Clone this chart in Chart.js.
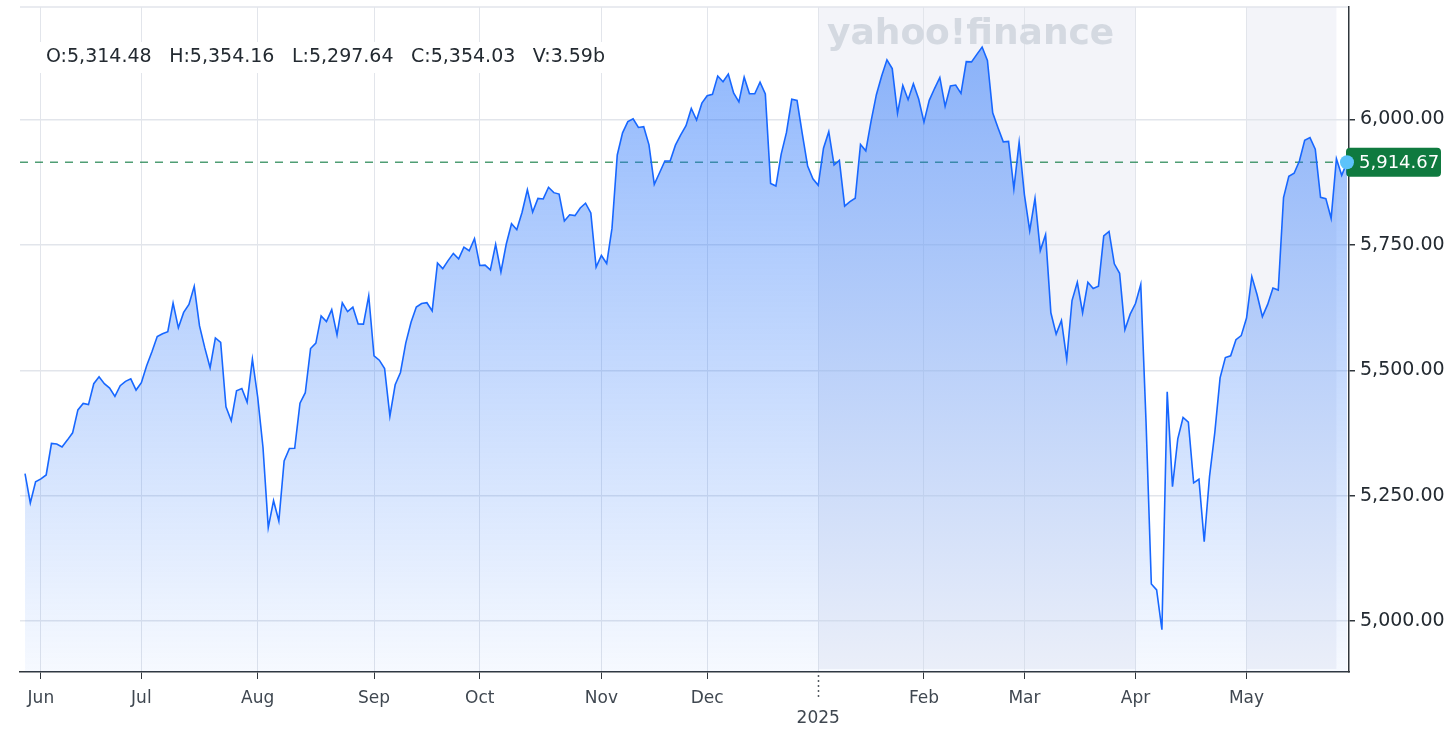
<!DOCTYPE html>
<html>
<head>
<meta charset="utf-8">
<title>S&amp;P 500 - 1Y</title>
<script src="https://cdn.jsdelivr.net/npm/chart.js@4.4.1/dist/chart.umd.min.js"></script>
<style>
  html, body { margin: 0; padding: 0; background: #fff; }
  #wrap { width: 1456px; height: 738px; }
</style>
</head>
<body>
<div id="wrap"><canvas id="myChart" width="1456" height="738"></canvas></div>
<script>
// trading sessions, one list of days per month
const sessionMonths = ['2024-05', '2024-06', '2024-07', '2024-08', '2024-09', '2024-10', '2024-11',
  '2024-12', '2025-01', '2025-02', '2025-03', '2025-04', '2025-05'];
const sessionDays = [
  [29, 30, 31],
  [3, 4, 5, 6, 7, 10, 11, 12, 13, 14, 17, 18, 20, 21, 24, 25, 26, 27, 28],
  [1, 2, 3, 5, 8, 9, 10, 11, 12, 15, 16, 17, 18, 19, 22, 23, 24, 25, 26, 29, 30, 31],
  [1, 2, 5, 6, 7, 8, 9, 12, 13, 14, 15, 16, 19, 20, 21, 22, 23, 26, 27, 28, 29, 30],
  [3, 4, 5, 6, 9, 10, 11, 12, 13, 16, 17, 18, 19, 20, 23, 24, 25, 26, 27, 30],
  [1, 2, 3, 4, 7, 8, 9, 10, 11, 14, 15, 16, 17, 18, 21, 22, 23, 24, 25, 28, 29, 30, 31],
  [1, 4, 5, 6, 7, 8, 11, 12, 13, 14, 15, 18, 19, 20, 21, 22, 25, 26, 27, 29],
  [2, 3, 4, 5, 6, 9, 10, 11, 12, 13, 16, 17, 18, 19, 20, 23, 24, 26, 27, 30, 31],
  [2, 3, 6, 7, 8, 10, 13, 14, 15, 16, 17, 21, 22, 23, 24, 27, 28, 29, 30, 31],
  [3, 4, 5, 6, 7, 10, 11, 12, 13, 14, 18, 19, 20, 21, 24, 25, 26, 27, 28],
  [3, 4, 5, 6, 7, 10, 11, 12, 13, 14, 17, 18, 19, 20, 21, 24, 25, 26, 27, 28, 31],
  [1, 2, 3, 4, 7, 8, 9, 10, 11, 14, 15, 16, 17, 21, 22, 23, 24, 25, 28, 29, 30],
  [1, 2, 5, 6, 7, 8, 9, 12, 13, 14, 15, 16, 19, 20, 21, 22, 23, 27, 28, 29]
];

const closes = [
  5294.00, 5235.48, 5277.51,
  5283.40, 5291.34, 5354.03, 5352.96, 5346.99, 5360.79, 5375.32, 5421.03, 5433.74, 5431.60,
  5473.23, 5487.03, 5473.17, 5464.62, 5447.87, 5469.30, 5477.90, 5482.87, 5460.48,
  5475.09, 5509.01, 5537.02, 5567.19, 5572.85, 5576.98, 5633.91, 5584.54, 5615.35, 5631.22,
  5667.20, 5588.27, 5544.59, 5505.00, 5564.41, 5555.74, 5427.13, 5399.22, 5459.10, 5463.54,
  5436.44, 5522.30,
  5446.68, 5346.56, 5186.33, 5240.03, 5199.50, 5319.31, 5344.16, 5344.39, 5434.43, 5455.21,
  5543.22, 5554.25, 5608.25, 5597.12, 5620.85, 5570.64, 5634.61, 5616.84, 5625.80, 5592.18,
  5591.96, 5648.40,
  5528.93, 5520.07, 5503.41, 5408.42, 5471.05, 5495.52, 5554.13, 5595.76, 5626.02, 5633.09,
  5634.58, 5618.26, 5713.64, 5702.55, 5718.57, 5732.93, 5722.26, 5745.37, 5738.17, 5762.48,
  5708.75, 5709.54, 5699.94, 5751.07, 5695.94, 5751.13, 5792.04, 5780.05, 5815.03, 5859.85,
  5815.26, 5842.47, 5841.47, 5864.67, 5853.98, 5851.20, 5797.42, 5809.86, 5808.12, 5823.52,
  5832.92, 5813.67, 5705.45,
  5728.80, 5712.69, 5782.76, 5929.04, 5973.10, 5995.54, 6001.35, 5983.99, 5985.38, 5949.17,
  5870.62, 5893.62, 5916.98, 5917.11, 5948.71, 5969.34, 5987.37, 6021.63, 5998.74, 6032.38,
  6047.15, 6049.88, 6086.49, 6075.11, 6090.27, 6052.85, 6034.91, 6084.19, 6051.25, 6051.09,
  6074.08, 6050.61, 5872.16, 5867.08, 5930.85, 5974.07, 6040.04, 6037.59, 5970.84, 5906.94,
  5881.63,
  5868.55, 5942.47, 5975.38, 5909.03, 5918.25, 5827.04, 5836.22, 5842.91, 5949.91, 5937.34,
  5996.66, 6049.24, 6086.37, 6118.71, 6101.24, 6012.28, 6067.70, 6039.31, 6071.17, 6040.53,
  5994.57, 6037.88, 6061.48, 6083.57, 6025.99, 6066.44, 6068.50, 6051.97, 6115.07, 6114.63,
  6129.58, 6144.15, 6117.52, 6013.13, 5983.25, 5955.25, 5956.06, 5861.57, 5954.50,
  5849.72, 5778.15, 5842.63, 5738.52, 5770.20, 5614.56, 5572.07, 5599.30, 5521.52, 5638.94,
  5675.12, 5614.66, 5675.29, 5662.89, 5667.56, 5767.57, 5776.65, 5712.20, 5693.31, 5580.94,
  5611.85,
  5633.07, 5670.97, 5396.52, 5074.08, 5062.25, 4982.77, 5456.90, 5268.05, 5363.36, 5405.97,
  5396.63, 5275.70, 5282.70, 5158.20, 5287.76, 5375.86, 5484.77, 5525.21, 5528.75, 5560.83,
  5569.06,
  5604.14, 5686.67, 5650.38, 5606.91, 5631.28, 5663.94, 5659.91, 5844.19, 5886.55, 5892.58,
  5916.93, 5958.38, 5963.60, 5940.46, 5844.61, 5842.01, 5802.82, 5921.54, 5888.55, 5914.67
];

const monthNames = ['Jan', 'Feb', 'Mar', 'Apr', 'May', 'Jun', 'Jul', 'Aug', 'Sep', 'Oct', 'Nov', 'Dec'];
const priceTicks = [5000, 5250, 5500, 5750, 6000];
const ohlcParts = ['O:5,314.48', 'H:5,354.16', 'L:5,297.64', 'C:5,354.03', 'V:3.59b'];
const shadedRanges = [['2025-01-02', '2025-04-01'], ['2025-05-01', '2025-05-27']];
const watermark = 'yahoo!finance';

// flatten sessions to date strings
const dates = [];
sessionMonths.forEach((m, i) => {
  sessionDays[i].forEach(d => dates.push(m + '-' + String(d).padStart(2, '0')));
});

// first session of every month becomes an x tick
const monthStarts = [];
for (let i = 1; i < dates.length; i++) {
  if (dates[i].slice(0, 7) !== dates[i - 1].slice(0, 7)) monthStarts.push(i);
}
const yearStart = dates.findIndex(d => d.startsWith('2025-01'));
const lastIdx = closes.length - 1;
const lastPrice = closes[lastIdx];

const fmt = v => v.toLocaleString('en-US', { minimumFractionDigits: 2, maximumFractionDigits: 2 });
const FONT = "'DejaVu Sans'";
const GRID = '#e2e5eb';
const AXIS = '#30363c';

const decorations = {
  id: 'decorations',
  beforeDraw(chart) {
    const { ctx, chartArea: a, scales: { x } } = chart;
    ctx.save();
    ctx.fillStyle = '#f3f4f9';
    shadedRanges.forEach(([s, e]) => {
      const x0 = x.getPixelForValue(dates.indexOf(s));
      const x1 = x.getPixelForValue(dates.indexOf(e));
      ctx.fillRect(x0, a.top, x1 - x0, a.bottom - a.top - 3);
    });
    ctx.strokeStyle = GRID;
    ctx.lineWidth = 1.5;
    ctx.beginPath();
    ctx.moveTo(a.left, a.top);
    ctx.lineTo(a.right, a.top);
    ctx.stroke();
    ctx.restore();
  },
  beforeDatasetsDraw(chart) {
    const { ctx, chartArea: a, scales: { y } } = chart;
    ctx.save();

    // watermark
    ctx.font = 'bold 36px ' + FONT;
    ctx.fillStyle = '#d4d9e1';
    ctx.textBaseline = 'alphabetic';
    ctx.fillText(watermark, 827, 44);

    // OHLC readout with white backing
    ctx.font = '19px ' + FONT;
    let tx = 46;
    const gap = 17.5;
    const widths = ohlcParts.map(p => ctx.measureText(p).width);
    const total = widths.reduce((s, w) => s + w, 0) + gap * (ohlcParts.length - 1);
    ctx.fillStyle = '#fff';
    ctx.fillRect(tx - 6, 42, total + 12, 31);
    ctx.fillStyle = '#232a31';
    ctx.textBaseline = 'middle';
    ohlcParts.forEach((p, i) => {
      ctx.fillText(p, tx, 57);
      tx += widths[i] + gap;
    });

    // last price dashed line
    const py = y.getPixelForValue(lastPrice);
    ctx.strokeStyle = 'rgba(20,125,70,0.75)';
    ctx.lineWidth = 1.5;
    ctx.setLineDash([8, 7]);
    ctx.beginPath();
    ctx.moveTo(a.left, py);
    ctx.lineTo(a.right, py);
    ctx.stroke();
    ctx.setLineDash([]);

    // price tag
    ctx.fillStyle = '#0f7a3f';
    ctx.beginPath();
    ctx.roundRect(1346, py - 14.5, 95, 29, 4);
    ctx.fill();
    ctx.fillStyle = '#fff';
    ctx.font = '18px ' + FONT;
    ctx.textBaseline = 'middle';
    ctx.fillText(fmt(lastPrice), 1359, py + 1);
    ctx.restore();
  },
  afterDraw(chart) {
    const { ctx, chartArea: a, scales: { x } } = chart;
    const jx = Math.round(x.getPixelForValue(yearStart)) + 0.5;
    ctx.save();
    ctx.strokeStyle = '#555b62';
    ctx.lineWidth = 1.5;
    ctx.setLineDash([2, 3]);
    ctx.beginPath();
    ctx.moveTo(jx, a.bottom + 3);
    ctx.lineTo(jx, a.bottom + 28);
    ctx.stroke();
    ctx.restore();
  }
};

const points = closes.map((v, i) => ({ x: i, y: v }));

new Chart(document.getElementById('myChart'), {
  type: 'line',
  data: {
    datasets: [{
      label: 'S&P 500',
      data: points,
      borderColor: '#1767ff',
      borderWidth: 1.6,
      tension: 0,
      fill: 'start',
      clip: false,
      backgroundColor(c) {
        const a = c.chart.chartArea;
        if (!a) return 'rgba(30,110,250,0.3)';
        const g = c.chart.ctx.createLinearGradient(0, a.top, 0, a.bottom);
        g.addColorStop(0, 'rgba(30,110,250,0.52)');
        g.addColorStop(1, 'rgba(30,110,250,0.04)');
        return g;
      },
      pointRadius: c => (c.dataIndex === lastIdx ? 7 : 0),
      pointHoverRadius: 0,
      pointBackgroundColor: '#5cc3fa',
      pointBorderWidth: 0
    }]
  },
  options: {
    responsive: false,
    animation: false,
    devicePixelRatio: 1,
    layout: { padding: { left: 20, top: 0, right: 0, bottom: 0 } },
    plugins: { legend: { display: false }, tooltip: { enabled: false } },
    scales: {
      x: {
        type: 'linear',
        position: 'bottom',
        min: -0.95,
        max: 250.38,
        afterBuildTicks: s => { s.ticks = monthStarts.map(i => ({ value: i })); },
        afterFit: s => { s.height = 66; s.paddingLeft = 0; s.paddingRight = 0; },
        ticks: {
          autoSkip: false,
          maxRotation: 0,
          padding: 9,
          color: '#3f4750',
          font: { family: FONT, size: 17 },
          callback: v => {
            if (v === yearStart) return ['', dates[v].slice(0, 4)];
            return monthNames[parseInt(dates[v].slice(5, 7), 10) - 1];
          }
        },
        grid: {
          color: GRID,
          lineWidth: 1,
          tickLength: 7,
          tickColor: c => (c.tick && c.tick.value === yearStart ? 'rgba(0,0,0,0)' : AXIS)
        },
        border: { color: AXIS, width: 1.5 }
      },
      y: {
        type: 'linear',
        position: 'right',
        min: 4898.6,
        max: 6224.0,
        afterBuildTicks: s => { s.ticks = priceTicks.map(v => ({ value: v })); },
        afterFit: s => { s.width = 107; s.paddingTop = 0; s.paddingBottom = 0; },
        ticks: {
          padding: 5,
          color: '#232a31',
          font: { family: FONT, size: 19 },
          callback: v => fmt(v)
        },
        grid: { color: GRID, lineWidth: 1.5, tickLength: 6, tickColor: AXIS },
        border: { color: AXIS, width: 1.5 }
      }
    }
  },
  plugins: [decorations]
});
</script>
</body>
</html>
